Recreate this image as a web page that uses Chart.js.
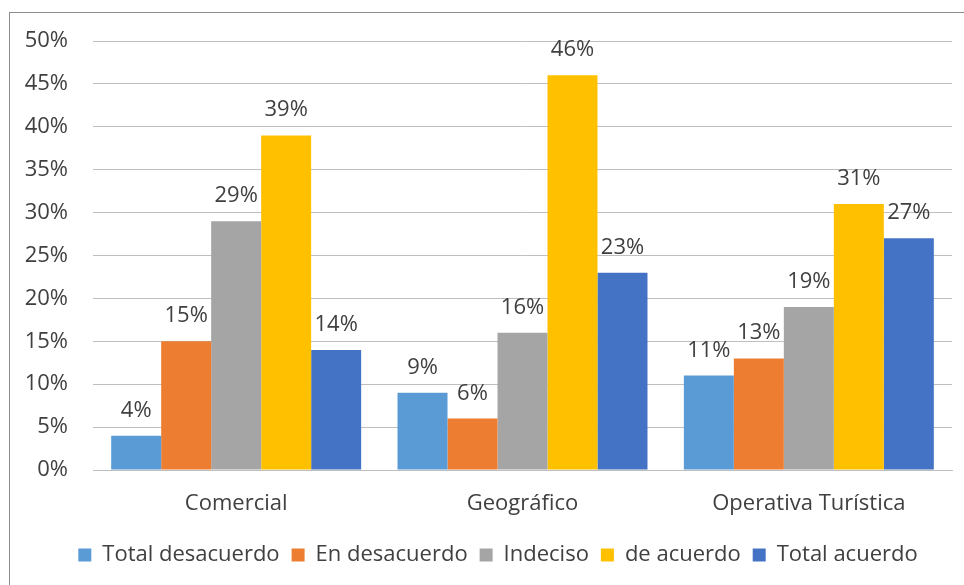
<!DOCTYPE html>
<html>
<head>
<meta charset="utf-8">
<script src="https://cdn.jsdelivr.net/npm/chart.js@4.4.1/dist/chart.umd.min.js"></script>
<style>
  html,body{margin:0;padding:0;background:#fff;}
  #frame{position:absolute;left:9px;top:12px;width:955px;height:573px;border-left:1px solid #8c8c8c;border-top:1px solid #8c8c8c;}
  #c{display:block;}
</style>
</head>
<body>
<div id="frame"><canvas id="c" width="954" height="572"></canvas></div>
<script>
// categorías y series
const categories = ['Comercial', 'Geográfico', 'Operativa Turística'];
const seriesNames = ['Total desacuerdo', 'En desacuerdo', 'Indeciso', 'de acuerdo', 'Total acuerdo'];
const totalDesacuerdo = [4, 9, 11];
const enDesacuerdo    = [15, 6, 13];
const indeciso        = [29, 16, 19];
const deAcuerdo       = [39, 46, 31];
const totalAcuerdo    = [14, 23, 27];
const colors = ['#5B9BD5', '#ED7D31', '#A5A5A5', '#FFC000', '#4472C4'];
const yTicks = [0, 5, 10, 15, 20, 25, 30, 35, 40, 45, 50];

const FONT = '"Open Sans", Lato, sans-serif';
const TXT = '#404040';

// etiquetas de datos encima de cada barra
const valueLabels = {
  id: 'valueLabels',
  afterDatasetsDraw(chart){
    const ctx = chart.ctx;
    ctx.save();
    ctx.font = '22px ' + FONT;
    ctx.fillStyle = TXT;
    ctx.textAlign = 'center';
    ctx.textBaseline = 'alphabetic';
    chart.data.datasets.forEach((ds, i)=>{
      chart.getDatasetMeta(i).data.forEach((bar, j)=>{
        ctx.fillText(ds.data[j] + '%', bar.x, bar.y - 19);
      });
    });
    ctx.restore();
  }
};

// la leyenda del original queda algo a la derecha del centro
const legendShift = {
  id: 'legendShift',
  afterLayout(chart){
    if(chart.legend){ chart.legend.left += 17; chart.legend.right += 17; }
  }
};

const allSeries = [totalDesacuerdo, enDesacuerdo, indeciso, deAcuerdo, totalAcuerdo];

new Chart(document.getElementById('c'), {
  type: 'bar',
  data: {
    labels: categories,
    datasets: allSeries.map((d, i)=>({
      label: seriesNames[i],
      data: d,
      backgroundColor: colors[i],
      borderWidth: 0,
      categoryPercentage: 0.873,
      barPercentage: 1.0
    }))
  },
  options: {
    responsive: false,
    animation: false,
    layout: { padding: { top: 28, right: 12, left: 0, bottom: 9 } },
    plugins: {
      legend: {
        position: 'bottom',
        labels: {
          font: { size: 22, family: FONT },
          color: TXT,
          boxWidth: 13,
          boxHeight: 13,
          padding: 12
        }
      },
      tooltip: { enabled: false }
    },
    scales: {
      x: {
        afterFit(axis){ axis.height = 62; axis.paddingLeft = 0; axis.paddingRight = 0; },
        grid: { display: false, drawTicks: false },
        border: { color: '#BFBFBF', width: 1 },
        ticks: { font: { size: 22, family: FONT }, color: TXT, padding: 21 }
      },
      y: {
        min: 0, max: 50,
        afterBuildTicks(axis){ axis.ticks = yTicks.map(v=>({ value: v })); },
        afterFit(axis){ axis.width = 83; axis.paddingTop = 0; axis.paddingBottom = 0; },
        grid: { color: '#BFBFBF', drawTicks: false },
        border: { display: false },
        ticks: {
          font: { size: 22, family: FONT }, color: TXT, padding: 25,
          callback: v => v + '%'
        }
      }
    }
  },
  plugins: [valueLabels, legendShift]
});
</script>
</body>
</html>
